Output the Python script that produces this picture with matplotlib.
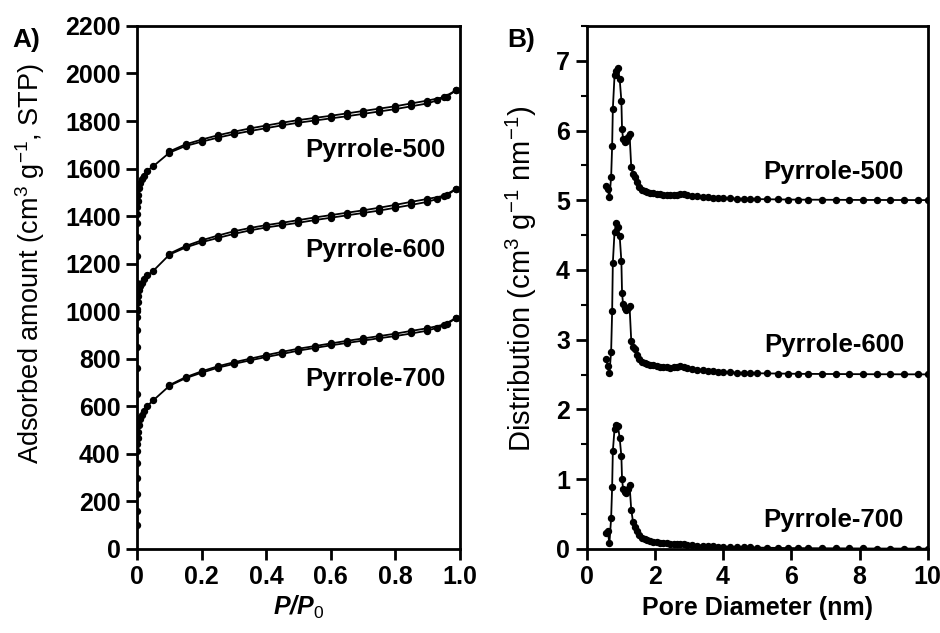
import numpy as np
import matplotlib
matplotlib.use("Agg")
import matplotlib.pyplot as plt
from matplotlib.ticker import MultipleLocator

plt.rcParams['font.family'] = ['Liberation Sans', 'DejaVu Sans']
plt.rcParams['mathtext.fontset'] = 'custom'
plt.rcParams['mathtext.rm'] = 'Liberation Sans'
plt.rcParams['mathtext.it'] = 'Liberation Sans:italic'
plt.rcParams['mathtext.bf'] = 'Liberation Sans:bold'

# ---- A) N2 isotherms ----
samples = ["Pyrrole-500", "Pyrrole-600", "Pyrrole-700"]

p_ads = [1e-6, 3e-6, 1e-5, 3e-5, 1e-4, 3e-4, 7e-4, 0.0015, 0.003, 0.006,
         0.01, 0.015, 0.02, 0.03, 0.05, 0.1, 0.15, 0.2, 0.25, 0.3,
         0.35, 0.4, 0.45, 0.5, 0.55, 0.6, 0.65, 0.7, 0.75, 0.8,
         0.85, 0.9, 0.93, 0.96, 0.99]
ads_500 = [1000, 1120, 1230, 1310, 1370, 1410, 1440, 1465, 1490, 1520,
           1540, 1555, 1570, 1590, 1610, 1667, 1695, 1713, 1730, 1745,
           1758, 1770, 1782, 1793, 1802, 1811, 1820, 1830, 1840, 1850,
           1862, 1874, 1887, 1903, 1930]
ads_600 = [550, 650, 760, 850, 920, 975, 1010, 1040, 1065, 1090,
           1105, 1120, 1135, 1150, 1170, 1238, 1268, 1290, 1308, 1325,
           1340, 1352, 1362, 1372, 1383, 1393, 1403, 1413, 1423, 1435,
           1447, 1460, 1472, 1487, 1515]
ads_700 = [100, 160, 230, 300, 360, 410, 440, 465, 490, 520,
           545, 565, 580, 600, 625, 686, 718, 741, 762, 778,
           793, 807, 820, 834, 845, 856, 866, 876, 886, 895,
           906, 918, 930, 945, 972]

p_des = [0.99, 0.95, 0.9, 0.85, 0.8, 0.75, 0.7, 0.65, 0.6, 0.55,
         0.5, 0.45, 0.4, 0.35, 0.3, 0.25, 0.2, 0.15, 0.1]
des_500 = [1930, 1900, 1886, 1874, 1862, 1852, 1842, 1832, 1822, 1813,
           1804, 1793, 1781, 1769, 1755, 1740, 1722, 1702, 1672]
des_600 = [1515, 1485, 1472, 1460, 1447, 1435, 1424, 1414, 1404, 1394,
           1383, 1372, 1362, 1350, 1336, 1318, 1298, 1274, 1242]
des_700 = [972, 943, 928, 917, 905, 895, 885, 875, 864, 853,
           842, 829, 815, 800, 785, 768, 747, 722, 689]

# ---- B) pore size distributions ----
pore_d = [0.58, 0.62, 0.67, 0.72, 0.75, 0.77, 0.82, 0.87, 0.92, 0.97,
          1.02, 1.04, 1.07, 1.12, 1.16, 1.21, 1.26, 1.31, 1.36, 1.41,
          1.48, 1.55, 1.62, 1.70, 1.78, 1.85, 1.95, 2.05, 2.15, 2.25,
          2.35, 2.45, 2.55, 2.65, 2.75, 2.85, 2.95, 3.1, 3.25, 3.4,
          3.55, 3.7, 3.85, 4.0, 4.2, 4.4, 4.6, 4.8, 5.0, 5.3,
          5.6, 5.9, 6.2, 6.5, 6.9, 7.3, 7.7, 8.1, 8.5, 8.9,
          9.3, 9.7, 10.0]
psd_500 = [0.21, 0.16, 0.04, 0.33, 0.78, 1.31, 1.79, 1.85, 1.89, 1.74,
           1.43, 1.02, 0.88, 0.84, 0.85, 0.90, 0.95, 0.47, 0.38, 0.33,
           0.26, 0.19, 0.15, 0.13, 0.12, 0.11, 0.10, 0.09, 0.085, 0.08,
           0.075, 0.07, 0.075, 0.08, 0.095, 0.09, 0.08, 0.065, 0.055, 0.045,
           0.04, 0.035, 0.03, 0.028, 0.025, 0.022, 0.02, 0.018, 0.016, 0.014,
           0.012, 0.01, 0.009, 0.008, 0.007, 0.006, 0.005, 0.004, 0.004, 0.003,
           0.003, 0.002, 0.002]
psd_600 = [0.22, 0.12, 0.02, 0.33, 0.91, 1.60, 2.05, 2.17, 2.12, 1.99,
           1.63, 1.17, 1.01, 0.95, 0.93, 0.96, 0.98, 0.48, 0.40, 0.36,
           0.28, 0.22, 0.18, 0.16, 0.15, 0.14, 0.13, 0.12, 0.115, 0.11,
           0.105, 0.10, 0.105, 0.11, 0.12, 0.115, 0.10, 0.085, 0.07, 0.06,
           0.05, 0.045, 0.04, 0.035, 0.03, 0.027, 0.024, 0.021, 0.018, 0.016,
           0.014, 0.012, 0.01, 0.009, 0.008, 0.007, 0.006, 0.005, 0.004, 0.004,
           0.003, 0.003, 0.002]
psd_700 = [0.22, 0.25, 0.08, 0.44, 0.89, 1.40, 1.72, 1.78, 1.76, 1.59,
           1.33, 1.00, 0.86, 0.82, 0.80, 0.86, 0.91, 0.56, 0.39, 0.32,
           0.25, 0.20, 0.16, 0.14, 0.12, 0.11, 0.10, 0.095, 0.09, 0.085,
           0.08, 0.075, 0.07, 0.068, 0.066, 0.062, 0.058, 0.052, 0.047, 0.043,
           0.04, 0.036, 0.033, 0.03, 0.027, 0.024, 0.021, 0.019, 0.017, 0.015,
           0.013, 0.011, 0.01, 0.009, 0.008, 0.007, 0.006, 0.005, 0.004, 0.004,
           0.003, 0.003, 0.002]
offsets = [5.0, 2.5, 0.0]

fig = plt.figure(figsize=(9.4, 6.33), dpi=100)
ax1 = fig.add_axes([0.146, 0.133, 0.343, 0.826])
ax2 = fig.add_axes([0.624, 0.133, 0.363, 0.826])

sty = dict(color='black', marker='o', markersize=4.3, linewidth=1.3)

for a, d in [(ads_500, des_500), (ads_600, des_600), (ads_700, des_700)]:
    ax1.plot(p_ads, a, **sty)
    ax1.plot(p_des, d, **sty)

for y, off in zip([psd_500, psd_600, psd_700], offsets):
    ax2.plot(pore_d, np.array(y) + off, **sty)

# sample labels
lab_kw = dict(fontsize=18.5, fontweight='bold', ha='right', va='center')
for name, yv in zip(samples, [1676, 1259, 716]):
    ax1.text(0.957, yv, name, **lab_kw)
for name, yv in zip(samples, [5.40, 2.92, 0.42]):
    ax2.text(9.3, yv, name, **lab_kw)

narrow = ['Liberation Sans Narrow', 'Liberation Sans', 'DejaVu Sans']

ax1.set_xlim(0, 1.0)
ax1.set_ylim(0, 2200)
ax1.set_xticks([0, 0.2, 0.4, 0.6, 0.8, 1.0])
ax1.set_xticklabels(["0", "0.2", "0.4", "0.6", "0.8", "1.0"])
ax1.set_yticks(np.arange(0, 2201, 200))
ax1.set_xlabel("P/P$_0$", fontsize=18, fontweight='bold', fontstyle='italic', labelpad=3)
ax1.set_ylabel("Adsorbed amount (cm$^3$ g$^{-1}$, STP)", fontsize=19.5)
ax1.yaxis.set_label_coords(-0.281, 0.545)

ax2.set_xlim(0, 10)
ax2.set_ylim(0, 7.5)
ax2.set_xticks([0, 2, 4, 6, 8, 10])
ax2.set_yticks(range(0, 8))
ax2.yaxis.set_minor_locator(MultipleLocator(0.5))
ax2.set_xlabel("Pore Diameter (nm)", fontsize=18, fontweight='bold', family=narrow, labelpad=5)
ax2.set_ylabel("Distribution (cm$^3$ g$^{-1}$ nm$^{-1}$)", fontsize=21)
ax2.yaxis.set_label_coords(-0.139, 0.516)

for ax in (ax1, ax2):
    for s in ax.spines.values():
        s.set_linewidth(2)
    ax.tick_params(direction='out', length=8, width=2, labelsize=18, pad=4)
    ax.tick_params(which='minor', direction='out', length=4, width=1.5)
    for lbl in ax.get_yticklabels():
        lbl.set_fontweight('bold')
    for lbl in ax.get_xticklabels():
        lbl.set_fontweight('bold')
        lbl.set_family(narrow)

fig.text(0.013, 0.937, "A)", fontsize=19, fontweight='bold', va='center')
fig.text(0.540, 0.937, "B)", fontsize=19, fontweight='bold', va='center')

fig.savefig("out.png", dpi=100)
